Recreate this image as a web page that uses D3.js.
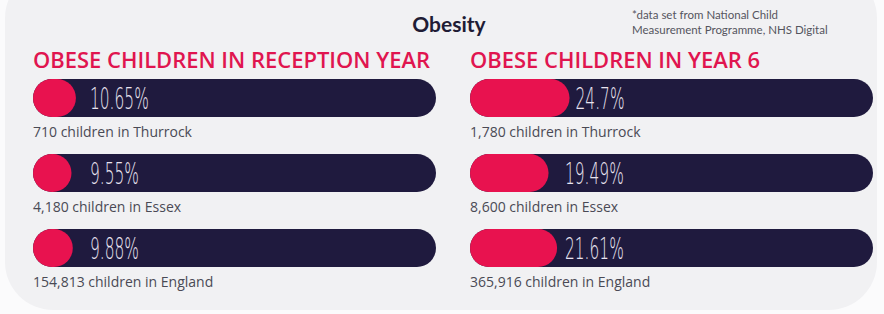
<!DOCTYPE html>
<html><head><meta charset="utf-8">
<script src="https://cdn.jsdelivr.net/npm/d3@7"></script>
<style>body{margin:0;background:#fff;overflow:hidden}svg{display:block}</style>
</head><body><svg id="c" width="884" height="314"></svg>
<script>
const title = "Obesity";
const footnote = ["*data set from National Child", "Measurement Programme, NHS Digital"];
const panelTitles = ["OBESE CHILDREN IN RECEPTION YEAR", "OBESE CHILDREN IN YEAR 6"];
const areas = ["Thurrock", "Essex", "England"];
const receptionPct = [10.65, 9.55, 9.88];
const receptionCount = ["710", "4,180", "154,813"];
const year6Pct = [24.7, 19.49, 21.61];
const year6Count = ["1,780", "8,600", "365,916"];
const pctLabels = [["10.65%", "9.55%", "9.88%"], ["24.7%", "19.49%", "21.61%"]];

const svg = d3.select("#c");
const W = 884, H = 314;
const C = {pink: "#e8124f", navy: "#1f1a3e", txt: "#e9e4f0", head: "#e0154f", dark: "#1f1c35", sub: "#4a4a55", bg: "#f1f1f3"};

// background panel
svg.append("rect").attr("x", 0).attr("y", 0).attr("width", W).attr("height", H).attr("fill", "#fbfbfc");
svg.append("rect").attr("x", 5).attr("y", -30).attr("width", 872).attr("height", 340).attr("rx", 48).attr("fill", C.bg);

svg.append("text").attr("x", 449).attr("y", 32).attr("text-anchor", "middle")
  .attr("font-family", "Lato, sans-serif").attr("font-weight", 700).attr("font-size", 21)
  .attr("fill", C.dark).text(title);

svg.selectAll("text.fn").data(footnote).join("text").attr("class", "fn")
  .attr("x", 632).attr("y", (d, i) => 19 + i * 15)
  .attr("font-family", "Lato, sans-serif").attr("font-size", 11.5).attr("fill", "#55555e").text(d => d);

const panels = [
  {x0: 33, title: panelTitles[0], pct: receptionPct, cnt: receptionCount, lab: pctLabels[0], tw: 397, minLab: 90},
  {x0: 470, title: panelTitles[1], pct: year6Pct, cnt: year6Count, lab: pctLabels[1], tw: 290, minLab: 565}
];
const barW = 403, barH = 38;
const x = d3.scaleLinear().domain([0, 100]).range([0, barW]);
const y = d3.scaleBand().domain(areas).range([79, 304]).paddingInner(0).paddingOuter(0);

panels.forEach(p => {
  const g = svg.append("g");
  g.append("text").attr("x", p.x0).attr("y", 68)
    .attr("font-family", "'Open Sans', sans-serif").attr("font-weight", 600).attr("font-size", 22)
    .attr("fill", C.head).attr("textLength", p.tw).attr("lengthAdjust", "spacingAndGlyphs").text(p.title);
  areas.forEach((a, i) => {
    const yy = y(a);
    g.append("rect").attr("x", p.x0).attr("y", yy).attr("width", barW).attr("height", barH)
      .attr("rx", barH / 2).attr("fill", C.navy);
    g.append("rect").attr("x", p.x0).attr("y", yy).attr("width", x(p.pct[i])).attr("height", barH)
      .attr("rx", barH / 2).attr("fill", C.pink);
    const lx = Math.max(p.x0 + x(p.pct[i]) + 6, p.minLab);
    g.append("text").attr("x", lx).attr("y", yy + barH / 2 + 11)
      .attr("font-family", "DejaVu Sans, sans-serif").attr("font-weight", 200).attr("font-size", 30)
      .attr("fill", C.txt).attr("textLength", p.lab[i].length * 9.8).attr("lengthAdjust", "spacingAndGlyphs")
      .text(p.lab[i]);
    g.append("text").attr("x", p.x0).attr("y", yy + barH + 20)
      .attr("font-family", "'Open Sans', sans-serif").attr("font-size", 14).attr("fill", C.sub)
      .text(p.cnt[i] + " children in " + a);
  });
});
</script></body></html>
